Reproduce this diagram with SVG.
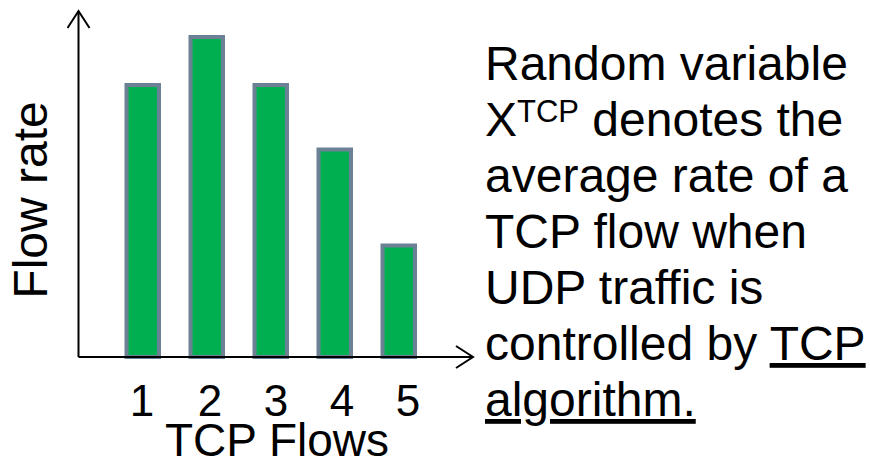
<svg xmlns="http://www.w3.org/2000/svg" width="870" height="462" viewBox="0 0 870 462">
  <style>
    .bar { fill: #00B050; stroke: #6D8196; stroke-width: 4; }
    .axis { fill: none; stroke: #000; stroke-width: 2; }
    .txt { font-family: "Liberation Sans", Arial, sans-serif; fill: #000; }
  </style>
  <defs>
    <marker id="open-arrow" viewBox="0 0 20 24" refX="18" refY="12" markerWidth="20" markerHeight="24" markerUnits="userSpaceOnUse" orient="auto">
      <path d="M1,1 L18,12 L1,23" fill="none" stroke="#000" stroke-width="2"/>
    </marker>
  </defs>
  <rect width="870" height="462" fill="#fff"/>

  <!-- bars -->
  <g id="bar-1"><rect class="bar" x="126.5" y="85" width="32.5" height="272"/></g>
  <g id="bar-2"><rect class="bar" x="190.5" y="37" width="32.5" height="320"/></g>
  <g id="bar-3"><rect class="bar" x="254.5" y="85" width="32.5" height="272"/></g>
  <g id="bar-4"><rect class="bar" x="318.5" y="149.5" width="32.5" height="207.5"/></g>
  <g id="bar-5"><rect class="bar" x="382.5" y="245.5" width="32.5" height="111.5"/></g>

  <!-- axes -->
  <g id="axes">
    <path class="axis" d="M78.5,357 L78.5,11" marker-end="url(#open-arrow)"/>
    <path class="axis" d="M78.5,357 L473,357" marker-end="url(#open-arrow)"/>
  </g>

  <!-- axis labels -->
  <g id="y-label">
    <text class="txt" font-size="48" text-anchor="middle" transform="translate(47,200) rotate(-90)">Flow rate</text>
  </g>
  <g id="x-ticks" class="txt" font-size="44" text-anchor="middle">
    <text x="142" y="416">1</text>
    <text x="210" y="416">2</text>
    <text x="276" y="416">3</text>
    <text x="342" y="416">4</text>
    <text x="408" y="416">5</text>
  </g>
  <g id="x-label">
    <text class="txt" font-size="46" text-anchor="middle" x="277" y="456">TCP Flows</text>
  </g>

  <!-- description -->
  <g id="description" class="txt" font-size="48">
    <text x="485" y="80">Random variable</text>
    <text x="485" y="136">X<tspan font-size="31" dy="-14">TCP</tspan><tspan dy="14"> denotes the</tspan></text>
    <text x="485" y="192">average rate of a</text>
    <text x="485" y="248">TCP flow when</text>
    <text x="485" y="304">UDP traffic is</text>
    <text x="485" y="360">controlled by <tspan text-decoration="underline">TCP</tspan></text>
    <text x="485" y="416" text-decoration="underline">algorithm.</text>
  </g>
</svg>
